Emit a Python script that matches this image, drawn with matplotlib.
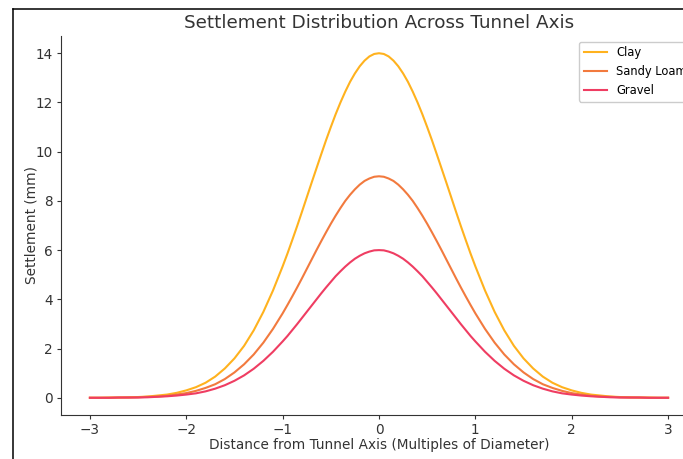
import matplotlib

matplotlib.use("Agg")
import matplotlib.pyplot as plt
from matplotlib.lines import Line2D

# distance from tunnel axis, in multiples of the diameter
# (finer readings near the crest where the curves bend most)
distance = [
    -3.0, -2.9, -2.8, -2.7, -2.6, -2.5, -2.4, -2.3, -2.2, -2.1,
    -2.0, -1.9, -1.8, -1.7, -1.6, -1.5, -1.4, -1.3, -1.2, -1.1,
    -1.0, -0.95, -0.9, -0.85, -0.8, -0.75, -0.7, -0.65, -0.6, -0.55,
    -0.5, -0.45, -0.4, -0.35, -0.3, -0.25, -0.2, -0.15, -0.1, -0.05,
    0.0,
    0.05, 0.1, 0.15, 0.2, 0.25, 0.3, 0.35, 0.4, 0.45, 0.5,
    0.55, 0.6, 0.65, 0.7, 0.75, 0.8, 0.85, 0.9, 0.95, 1.0,
    1.1, 1.2, 1.3, 1.4, 1.5, 1.6, 1.7, 1.8, 1.9, 2.0,
    2.1, 2.2, 2.3, 2.4, 2.5, 2.6, 2.7, 2.8, 2.9, 3.0,
]

# settlement (mm)
clay = [
    0.00, 0.00, 0.01, 0.01, 0.02, 0.03, 0.05, 0.09, 0.13, 0.20,
    0.30, 0.43, 0.61, 0.86, 1.19, 1.60, 2.11, 2.74, 3.49, 4.36,
    5.34, 5.86, 6.41, 6.97, 7.55, 8.14, 8.73, 9.31, 9.89, 10.46,
    11.00, 11.52, 12.00, 12.44, 12.84, 13.18, 13.47, 13.70, 13.87, 13.97,
    14.00,
    13.97, 13.87, 13.70, 13.47, 13.18, 12.84, 12.44, 12.00, 11.52, 11.00,
    10.46, 9.89, 9.31, 8.73, 8.14, 7.55, 6.97, 6.41, 5.86, 5.34,
    4.36, 3.49, 2.74, 2.11, 1.60, 1.19, 0.86, 0.61, 0.43, 0.30,
    0.20, 0.13, 0.09, 0.05, 0.03, 0.02, 0.01, 0.01, 0.00, 0.00,
]
sandy_loam = [
    0.00, 0.00, 0.00, 0.01, 0.01, 0.02, 0.04, 0.05, 0.08, 0.13,
    0.19, 0.28, 0.40, 0.55, 0.76, 1.03, 1.36, 1.76, 2.24, 2.80,
    3.43, 3.77, 4.12, 4.48, 4.85, 5.23, 5.61, 5.99, 6.36, 6.72,
    7.07, 7.40, 7.71, 8.00, 8.25, 8.47, 8.66, 8.81, 8.91, 8.98,
    9.00,
    8.98, 8.91, 8.81, 8.66, 8.47, 8.25, 8.00, 7.71, 7.40, 7.07,
    6.72, 6.36, 5.99, 5.61, 5.23, 4.85, 4.48, 4.12, 3.77, 3.43,
    2.80, 2.24, 1.76, 1.36, 1.03, 0.76, 0.55, 0.40, 0.28, 0.19,
    0.13, 0.08, 0.05, 0.04, 0.02, 0.01, 0.01, 0.00, 0.00, 0.00,
]
gravel = [
    0.00, 0.00, 0.00, 0.01, 0.01, 0.01, 0.02, 0.04, 0.06, 0.09,
    0.13, 0.18, 0.26, 0.37, 0.51, 0.69, 0.91, 1.18, 1.50, 1.87,
    2.29, 2.51, 2.75, 2.99, 3.24, 3.49, 3.74, 3.99, 4.24, 4.48,
    4.71, 4.94, 5.14, 5.33, 5.50, 5.65, 5.77, 5.87, 5.94, 5.99,
    6.00,
    5.99, 5.94, 5.87, 5.77, 5.65, 5.50, 5.33, 5.14, 4.94, 4.71,
    4.48, 4.24, 3.99, 3.74, 3.49, 3.24, 2.99, 2.75, 2.51, 2.29,
    1.87, 1.50, 1.18, 0.91, 0.69, 0.51, 0.37, 0.26, 0.18, 0.13,
    0.09, 0.06, 0.04, 0.02, 0.01, 0.01, 0.01, 0.00, 0.00, 0.00,
]

soil_names = ["Clay", "Sandy Loam", "Gravel"]
soil_colors = ["#FFB21E", "#F27A3E", "#EF3D62"]

W, H = 683, 459
fig = plt.figure(figsize=(W / 100, H / 100), dpi=100)

# axes box in pixels (left, right, top, bottom); right edge runs off the image
left, right, top, bottom = 61, 697, 36, 415
ax = fig.add_axes([left / W, 1 - bottom / H, (right - left) / W, (bottom - top) / H])

for values, name, color in zip([clay, sandy_loam, gravel], soil_names, soil_colors):
    ax.plot(distance, values, color=color, linewidth=1.5, label=name)

ax.set_xlim(-3.3, 3.3)
ax.set_ylim(-0.7, 14.7)
ax.set_yticks([0, 2, 4, 6, 8, 10, 12, 14])
ax.set_xticks([-3, -2, -1, 0, 1, 2, 3])

ax.spines["top"].set_visible(False)
ax.spines["right"].set_visible(False)
for side in ("left", "bottom"):
    ax.spines[side].set_color("#333333")
ax.tick_params(labelsize=9.8, colors="#333333", length=3, pad=3)

ax.set_title("Settlement Distribution Across Tunnel Axis", fontsize=13.2, color="#333333", pad=6)
ax.set_xlabel("Distance from Tunnel Axis (Multiples of Diameter)", fontsize=9.8,
              color="#333333", labelpad=0.5)
ax.set_ylabel("Settlement (mm)", fontsize=9.8, color="#333333", labelpad=-2)
ax.legend(loc="upper right", fontsize=8.3, framealpha=1.0, edgecolor="#cccccc")

# screenshot border along the left and top edges
fig.add_artist(Line2D([13 / W, 13 / W], [0, 1 - 9 / H], color="black", linewidth=1.1))
fig.add_artist(Line2D([13 / W, 1], [1 - 9 / H, 1 - 9 / H], color="black", linewidth=1.1))

fig.savefig("out.png", dpi=100)
